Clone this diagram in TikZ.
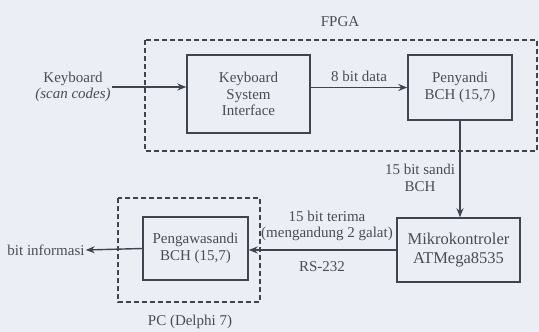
\documentclass[tikz,border=0pt]{standalone}
\usepackage{fontspec}
\setmainfont{Liberation Serif}
\usetikzlibrary{arrows.meta}
\definecolor{bg}{HTML}{EBEFF5}
\definecolor{ink}{HTML}{3E4450}
\definecolor{txt}{HTML}{4A4C55}
\tikzset{
  blk/.style={draw=ink, line width=1.4pt, fill=bg, align=center, text=txt, inner sep=0pt},
  grp/.style={draw=ink, line width=1.6pt, dash pattern=on 5pt off 3pt},
  arr/.style={draw=ink, line width=1.4pt, -{Stealth[length=9pt,width=7pt]}},
  lbl/.style={text=txt, align=center, inner sep=1pt},
}
\begin{document}
\begin{tikzpicture}[x=1pt,y=-1pt,font=\fontsize{15}{16.5}\selectfont]
\useasboundingbox[fill=bg] (0,0) rectangle (539,332);
% groups
\draw[grp] (145,40) rectangle (537,151);
\draw[grp] (118,198) rectangle (260,302);
\node[lbl] (fpga) at (340,22) {FPGA};
\node[lbl] (pc) at (190,322) {PC (Delphi 7)};
% blocks
\node[blk, minimum width=123pt, minimum height=78pt] (ksi) at (248.5,94) {Keyboard\\System\\Interface};
\node[blk, minimum width=104pt, minimum height=65pt] (peny) at (460,87.5) {Penyandi\\BCH (15,7)};
\node[blk, minimum width=123pt, minimum height=64pt, font=\fontsize{16.5}{19}\selectfont] (mikro) at (458.5,250) {Mikrokontroler\\ATMega8535};
\node[blk, minimum width=105pt, minimum height=63pt] (peng) at (195.5,248.5) {Pengawasandi\\BCH (15,7)};
% outer texts
\node[lbl] (kb) at (73,87) {Keyboard\\\textit{(scan codes)}};
\node[lbl] (binfo) at (46,250) {bit informasi};
% connectors
\draw[arr] (kb.east) -- (kb.east -| ksi.west);
\draw[arr] (peny.west -| ksi.east) -- (peny.west);
\draw[arr] (peny.south) -- (peny.south |- mikro.north);
\draw[arr] (mikro.west) -- (mikro.west -| peng.east);
\draw[arr] (peng.west) -- (binfo.east);
% connector labels
\node[lbl] (l8) at (359,76) {8 bit data};
\node[lbl] (l15s) at (420,178) {15 bit sandi\\BCH};
\node[lbl] (l15t) at (327,226) {15 bit terima\\(mengandung 2 galat)};
\node[lbl] (rs) at (322,267) {RS-232};
\end{tikzpicture}
\end{document}
